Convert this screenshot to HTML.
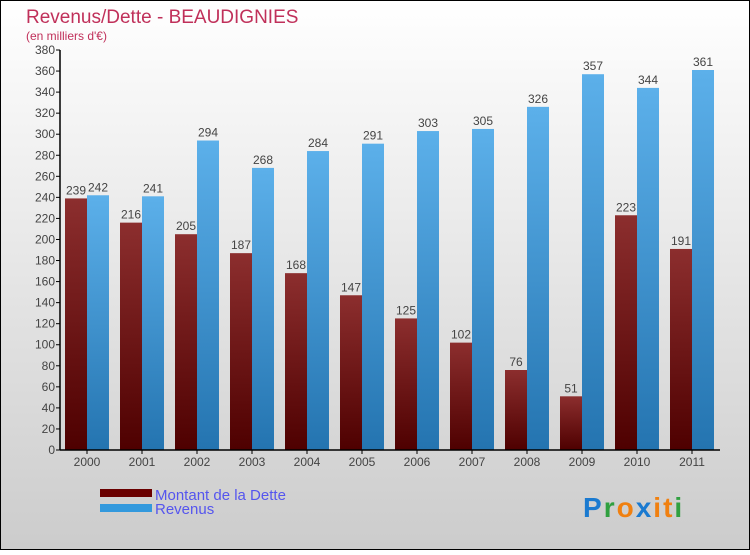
<!DOCTYPE html>
<html><head><meta charset="utf-8"><style>
body{margin:0;width:750px;height:550px;overflow:hidden;font-family:"Liberation Sans",sans-serif}
</style></head><body>
<svg width="750" height="550" xmlns="http://www.w3.org/2000/svg">
<defs>
<linearGradient id="bg" x1="0" y1="0" x2="0" y2="1"><stop offset="0" stop-color="#ffffff"/><stop offset="1" stop-color="#cccccc"/></linearGradient>
<linearGradient id="gd" x1="0" y1="0" x2="0" y2="1"><stop offset="0" stop-color="#8c2e2e"/><stop offset="1" stop-color="#4e0000"/></linearGradient>
<linearGradient id="gr" x1="0" y1="0" x2="0" y2="1"><stop offset="0" stop-color="#5cb0ea"/><stop offset="1" stop-color="#2474b0"/></linearGradient>
</defs>
<rect x="0.5" y="0.5" width="749" height="549" fill="url(#bg)" stroke="#000"/>
<text x="26" y="23" font-size="19" fill="#c0305a">Revenus/Dette - BEAUDIGNIES</text>
<text x="26" y="40" font-size="12" fill="#c0305a">(en milliers d'€)</text>
<g id="plot"></g>
<rect x="100" y="489" width="52" height="8" fill="#6a0000"/>
<rect x="100" y="504" width="52" height="8" fill="#3399dd"/>
<text x="155" y="500" font-size="15" fill="#5555ee">Montant de la Dette</text>
<text x="155" y="514" font-size="15" fill="#5555ee">Revenus</text>
<g font-size="28" font-weight="bold" letter-spacing="2">
<text x="583" y="517"><tspan fill="#1a7ad0">P</tspan><tspan fill="#30a040">r</tspan><tspan fill="#f08010">o</tspan><tspan fill="#1a7ad0">x</tspan><tspan fill="#f08010">i</tspan><tspan fill="#f08010">t</tspan><tspan fill="#30a040">i</tspan></text>
</g>
</svg>
<script>
const years=["2000","2001","2002","2003","2004","2005","2006","2007","2008","2009","2010","2011"];
const dette=[239,216,205,187,168,147,125,102,76,51,223,191];
const revenus=[242,241,294,268,284,291,303,305,326,357,344,361];
const yTicks=[0,20,40,60,80,100,120,140,160,180,200,220,240,260,280,300,320,340,360,380];
const NS="http://www.w3.org/2000/svg";
const g=document.getElementById('plot');
const y0=450,x0=60,yMax=380,ph=400;
function yS(v){return y0-v/yMax*ph;}
function xS(i){return 87+i*55;}
function mk(t,a,p){const e=document.createElementNS(NS,t);for(const k in a)e.setAttribute(k,a[k]);(p||g).appendChild(e);return e;}
yTicks.forEach(v=>{
 const l=mk('line',{x1:x0-4,x2:x0,y1:yS(v),y2:yS(v),stroke:'#000'});
 
 
 const t=mk('text',{x:x0-5,y:yS(v)+4,'text-anchor':'end','font-size':12,fill:'#444'});
 t.textContent=v;
 
 
});
years.forEach((yr,i)=>{
 const c=xS(i);
 const b1=mk('rect',{x:c-22,y:yS(dette[i]),width:22,height:y0-yS(dette[i]),fill:'url(#gd)'});
 
 
 const b2=mk('rect',{x:c,y:yS(revenus[i]),width:22,height:y0-yS(revenus[i]),fill:'url(#gr)'});
 
 
 const t1=mk('text',{x:c-11,y:yS(dette[i])-4,'text-anchor':'middle','font-size':12,fill:'#444'});
 t1.textContent=dette[i];
 
 
 const t2=mk('text',{x:c+11,y:yS(revenus[i])-4,'text-anchor':'middle','font-size':12,fill:'#444'});
 t2.textContent=revenus[i];
 
 
 const tk=mk('line',{x1:c,x2:c,y1:y0,y2:y0+4,stroke:'#000'});
 
 
 const tl=mk('text',{x:c,y:y0+16,'text-anchor':'middle','font-size':12,fill:'#444'});
 tl.textContent=yr;
 
 
});
const ax=mk('line',{x1:x0,x2:x0,y1:yS(380),y2:y0,stroke:'#000','stroke-width':1.5});


const bx=mk('line',{x1:x0,x2:720,y1:y0,y2:y0,stroke:'#000','stroke-width':1.5});


</script>
</body></html>
